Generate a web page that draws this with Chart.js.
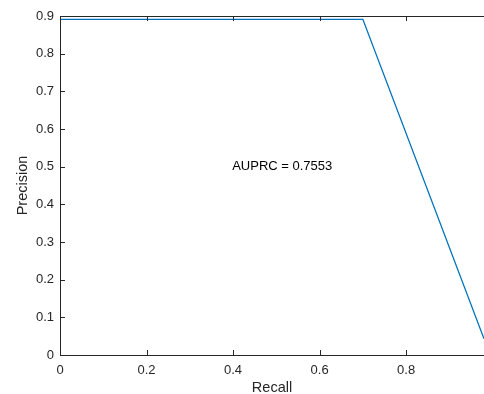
<!DOCTYPE html>
<html>
<head>
<meta charset="utf-8">
<script src="https://cdn.jsdelivr.net/npm/chart.js@4.4.1/dist/chart.umd.min.js"></script>
<style>
  html, body { margin: 0; padding: 0; background: #fff; }
  #wrap { width: 484px; height: 394px; }
</style>
</head>
<body>
<div id="wrap"><canvas id="prChart" width="484" height="394"></canvas></div>
<script>
// PR curve points (recall, precision)
var recall = [0, 0.7, 0.98];
var precision = [0.891, 0.891, 0.043];
var xTicks = [0, 0.2, 0.4, 0.6, 0.8];
var yTicks = [0, 0.1, 0.2, 0.3, 0.4, 0.5, 0.6, 0.7, 0.8, 0.9];
var xRange = [0, 0.98];
var yRange = [0, 0.9];
var noteText = 'AUPRC = 0.7553';
var notePos = [0.398, 0.5];

(function() {
  var axisColor = '#262626';
  var lineColor = '#0072BD';
  var font = "'Liberation Sans', Arial, sans-serif";
  Chart.defaults.font.family = font;
  Chart.defaults.color = axisColor;

  var points = recall.map(function(r, i) { return { x: r, y: precision[i] }; });

  // MATLAB-style box with inward ticks, plus the text label
  var matlabAxes = {
    id: 'matlabAxes',
    afterDraw: function(chart) {
      var ctx = chart.ctx;
      var a = chart.chartArea;
      var xs = chart.scales.x, ys = chart.scales.y;
      var tl = 5;
      ctx.save();
      ctx.strokeStyle = axisColor;
      ctx.lineWidth = 1;
      ctx.beginPath();
      ctx.moveTo(a.left + 0.5, a.top + 0.5);
      ctx.lineTo(a.right, a.top + 0.5);
      ctx.moveTo(a.left + 0.5, a.top);
      ctx.lineTo(a.left + 0.5, a.bottom + 0.5);
      ctx.lineTo(a.right, a.bottom + 0.5);
      xTicks.forEach(function(v) {
        var px = Math.round(xs.getPixelForValue(v)) + 0.5;
        ctx.moveTo(px, a.bottom);
        ctx.lineTo(px, a.bottom - tl);
        ctx.moveTo(px, a.top);
        ctx.lineTo(px, a.top + tl);
      });
      yTicks.forEach(function(v) {
        var py = Math.round(ys.getPixelForValue(v)) + 0.5;
        ctx.moveTo(a.left, py);
        ctx.lineTo(a.left + tl, py);
      });
      ctx.stroke();

      ctx.fillStyle = '#000';
      ctx.font = '13px ' + font;
      ctx.textAlign = 'left';
      ctx.textBaseline = 'middle';
      ctx.fillText(noteText, xs.getPixelForValue(notePos[0]), ys.getPixelForValue(notePos[1]));
      ctx.restore();
    }
  };

  new Chart(document.getElementById('prChart'), {
    type: 'line',
    data: {
      datasets: [{
        data: points,
        borderColor: lineColor,
        borderWidth: 1.3,
        pointRadius: 0,
        tension: 0,
        fill: false
      }]
    },
    options: {
      responsive: false,
      animation: false,
      layout: { padding: { top: 16, right: 0, left: 0, bottom: 0 } },
      plugins: { legend: { display: false }, tooltip: { enabled: false } },
      scales: {
        x: {
          type: 'linear',
          min: xRange[0],
          max: xRange[1],
          afterBuildTicks: function(s) { s.ticks = xTicks.map(function(v) { return { value: v }; }); },
          afterFit: function(s) { s.height = 39; },
          border: { display: false },
          grid: { display: false, drawTicks: false },
          ticks: {
            padding: 8,
            maxRotation: 0,
            font: { size: 13 },
            color: axisColor,
            callback: function(v) { return v === 0 ? '0' : String(Math.round(v * 10) / 10); }
          },
          title: { display: true, text: 'Recall', font: { size: 14.5 }, color: axisColor, padding: { top: 0, bottom: -3 } }
        },
        y: {
          type: 'linear',
          min: yRange[0],
          max: yRange[1],
          afterBuildTicks: function(s) { s.ticks = yTicks.map(function(v) { return { value: v }; }); },
          afterFit: function(s) { s.width = 60; },
          border: { display: false },
          grid: { display: false, drawTicks: false },
          ticks: {
            padding: 6,
            font: { size: 13 },
            color: axisColor,
            callback: function(v) { return v === 0 ? '0' : String(Math.round(v * 10) / 10); }
          },
          title: { display: true, text: 'Precision', font: { size: 14.5 }, color: axisColor, padding: { top: 14, bottom: 0 } }
        }
      }
    },
    plugins: [matlabAxes]
  });
})();
</script>
</body>
</html>
